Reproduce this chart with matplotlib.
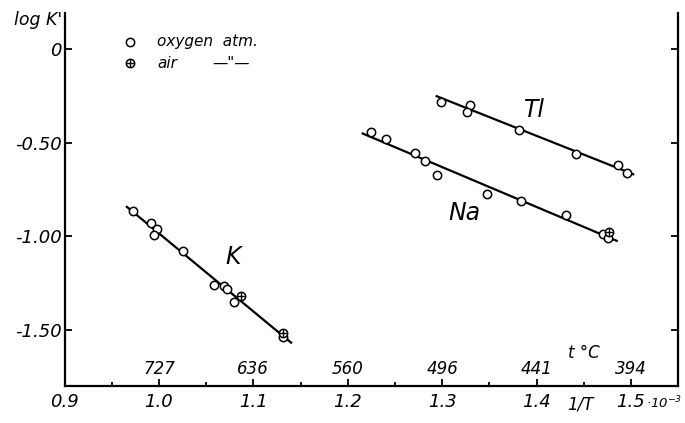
import numpy as np
import matplotlib.pyplot as plt

### data ###

# K
k_x = [0.972, 0.9915, 0.998, 0.995, 1.025, 1.058, 1.069, 1.072, 1.0795]
k_y = [-0.864, -0.931, -0.962, -0.994, -1.079, -1.262, -1.264, -1.283, -1.349]
k_air_x = [1.087, 1.131]
k_air_y = [-1.319, -1.514]
k_extra_x = [1.131]
k_extra_y = [-1.535]
k_line_x = [0.966, 1.140]
k_line_y = [-0.843, -1.567]

# Na
na_x = [1.2246, 1.2401, 1.2715, 1.2821, 1.2948, 1.3475, 1.3835, 1.4312, 1.470, 1.4753]
na_y = [-0.446, -0.481, -0.558, -0.599, -0.672, -0.774, -0.811, -0.889, -0.987, -1.011]
na_air_x = [1.477]
na_air_y = [-0.979]
na_line_x = [1.2158, 1.4849]
na_line_y = [-0.452, -1.024]

# Tl
tl_x = [1.2984, 1.3294, 1.3266, 1.3814, 1.4414, 1.4866, 1.4955]
tl_y = [-0.285, -0.301, -0.337, -0.433, -0.560, -0.621, -0.662]
tl_line_x = [1.2942, 1.5024]
tl_line_y = [-0.253, -0.669]

# axes
x_ticks = [0.9, 1.0, 1.1, 1.2, 1.3, 1.4, 1.5]
x_labels = ['0.9', '1.0', '1.1', '1.2', '1.3', '1.4', '1.5']
x_factor = '\u00b710$^{-3}$'
x_minor = [0.95, 1.05, 1.15, 1.25, 1.35, 1.45]
y_ticks = [0, -0.5, -1.0, -1.5]
y_labels = ['0', '-0.50', '-1.00', '-1.50']
t_pos = [1.0, 1.1, 1.2, 1.3, 1.4, 1.5]
t_labels = ['727', '636', '560', '496', '441', '394']

plt.rcParams['font.family'] = ['DejaVu Sans']
plt.rcParams['font.style'] = 'italic'

fig = plt.figure(figsize=(6.85, 4.23), dpi=100)
ax = fig.add_axes([0.0943, 0.0875, 0.8957, 0.8815])

lw = 1.6
ms = 6

def open_pts(x, y):
    ax.plot(x, y, 'o', ms=ms, mfc='white', mec='black', mew=1.1, zorder=3)

def air_pts(x, y):
    ax.plot(x, y, 'o', ms=ms, mfc='white', mec='black', mew=1.1, zorder=4)
    ax.plot(x, y, '+', ms=ms - 0.5, mec='black', mew=1.0, zorder=5)

ax.plot(k_line_x, k_line_y, color='black', lw=lw, zorder=2)
ax.plot(na_line_x, na_line_y, color='black', lw=lw, zorder=2)
ax.plot(tl_line_x, tl_line_y, color='black', lw=lw, zorder=2)

open_pts(k_x, k_y)
open_pts(k_extra_x, k_extra_y)
air_pts(k_air_x, k_air_y)
open_pts(na_x, na_y)
air_pts(na_air_x, na_air_y)
open_pts(tl_x, tl_y)

# curve labels
ax.text(1.078, -1.111, 'K', fontsize=17, ha='center', va='center')
ax.text(1.324, -0.876, 'Na', fontsize=17, ha='center', va='center')
ax.text(1.398, -0.328, 'Tl', fontsize=17, ha='center', va='center')

# legend (drawn by hand like the original)
open_pts([0.969], [0.036])
air_pts([0.969], [-0.077])
ax.text(0.998, 0.036, 'oxygen  atm.', fontsize=11, ha='left', va='center')
ax.text(0.998, -0.077, 'air', fontsize=11, ha='left', va='center')
ax.text(1.057, -0.077, '\u2014"\u2014', fontsize=11, ha='left', va='center')

# temperature scale inside the plot
for xp, lab in zip(t_pos, t_labels):
    ax.text(xp, -1.707, lab, fontsize=12, ha='center', va='center')
ax.text(1.45, -1.622, 't \u00b0C', fontsize=12, ha='center', va='center')

ax.set_xlim(0.9, 1.55)
ax.set_ylim(-1.798, 0.19)

ax.set_xticks(x_ticks)
ax.set_xticklabels(x_labels, fontsize=13)
ax.set_xticks(x_minor, minor=True)
ax.set_yticks(y_ticks)
ax.set_yticklabels(y_labels, fontsize=13)

ax.tick_params(axis='both', which='major', direction='in', length=5, width=1.3, pad=5)
ax.tick_params(axis='x', which='minor', direction='in', length=3, width=1.3)
ax.tick_params(axis='y', right=True)
ax.tick_params(axis='y', pad=2)

ax.spines['top'].set_visible(False)
for s in ['left', 'right', 'bottom']:
    ax.spines[s].set_linewidth(1.6)

# 10^-3 factor after the last tick label, and the 1/T label
ax.annotate(x_factor, xy=(x_ticks[-1], -1.798), xytext=(10.5, -6), textcoords='offset points',
            fontsize=9.5, ha='left', va='top', annotation_clip=False)
ax.annotate('1/T', xy=(1.446, -1.798), xytext=(0, -13), textcoords='offset points',
            fontsize=12, ha='center', va='center', annotation_clip=False)

fig.text(0.055, 0.953, "log K'", fontsize=12.5, ha='center', va='center')

fig.savefig('out.png', dpi=100)
